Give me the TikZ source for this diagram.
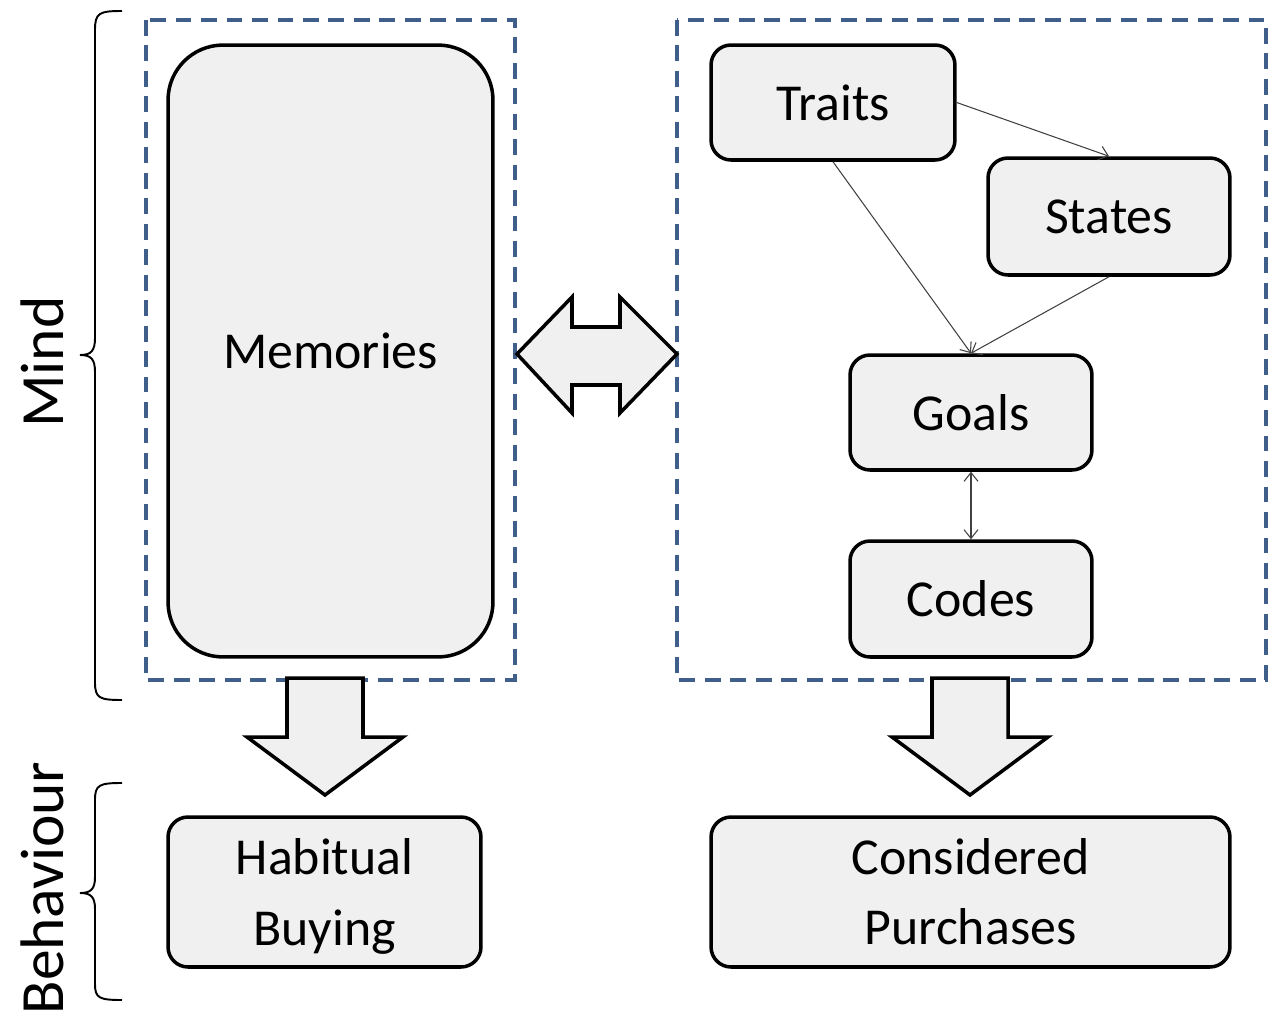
\documentclass[tikz,border=0pt]{standalone}
\usepackage{fontspec}
\setmainfont{Carlito}
\usetikzlibrary{arrows.meta}
\definecolor{boxfill}{HTML}{F0F0F0}
\definecolor{frameblue}{HTML}{3F5E8A}
\begin{document}
\begin{tikzpicture}[x=0.02cm,y=-0.02cm,
  block/.style={draw=black, line width=2pt, fill=boxfill, rounded corners=0.4cm,
    align=center, inner sep=0pt, font=\fontsize{29.5}{40}\selectfont},
  frame/.style={draw=frameblue, line width=2pt, dash pattern=on 9pt off 5.5pt},
  bigarrow/.style={draw=black, line width=2pt, fill=boxfill, line join=miter},
  conn/.style={draw=black!75, line width=0.6pt, -{Straight Barb[length=5pt,width=8pt]}},
  bothconn/.style={draw=black!75, line width=0.6pt, {Straight Barb[length=5pt,width=8pt]}-{Straight Barb[length=5pt,width=8pt]}},
  brace/.style={draw=black, line width=1.1pt},
  side/.style={rotate=90, inner sep=0pt, font=\fontsize{35}{40}\selectfont}]
\useasboundingbox (0,0) rectangle (1269,1018);

% dashed frames
\draw[frame] (146,20) rectangle (515,680);
\draw[frame] (677,20) rectangle (1266,680);

% boxes
\node[block, rounded corners=1.1cm, minimum width=6.5cm, minimum height=12.24cm] (memories) at (330.5,351) {Memories};
\node[block, minimum width=4.88cm, minimum height=2.3cm] (traits) at (833,102.5) {Traits};
\node[block, minimum width=4.84cm, minimum height=2.34cm] (states) at (1109,216.5) {States};
\node[block, minimum width=4.84cm, minimum height=2.3cm] (goals) at (971,412.5) {Goals};
\node[block, minimum width=4.84cm, minimum height=2.32cm] (codes) at (971,599) {Codes};
\node[block, minimum width=6.26cm, minimum height=3cm, text depth=0pt] (habitual) at (324.5,892) {Habitual\\Buying};
\node[block, minimum width=10.38cm, minimum height=3cm] (considered) at (970.5,892) {Considered\\Purchases};

% connectors
\draw[conn] (traits.east) -- (states.north);
\draw[conn] (traits.south) -- (goals.north);
\draw[conn] (states.south) -- (goals.north);
\draw[bothconn] (goals.south) -- (codes.north);

% block arrows
\draw[bigarrow] (517,354) -- (572,297) -- (572,327) -- (620,327) -- (620,297) -- (677,354)
  -- (620,413) -- (620,385) -- (572,385) -- (572,413) -- cycle;
\draw[bigarrow] (287,678) -- (363,678) -- (363,737) -- (403,737) -- (325,795) -- (247,737) -- (287,737) -- cycle;
\draw[bigarrow] (932,678) -- (1008,678) -- (1008,737) -- (1048,737) -- (970,795) -- (892,737) -- (932,737) -- cycle;

% braces
\draw[brace] (122,11) .. controls (99,11) and (95,13) .. (95,30) -- (95,338)
  .. controls (95,351) and (91,355) .. (80,355)
  .. controls (91,355) and (95,359) .. (95,372) -- (95,682)
  .. controls (95,698) and (99,700) .. (122,700);
\draw[brace] (122,783) .. controls (99,783) and (95,785) .. (95,800) -- (95,877)
  .. controls (95,889) and (91,893) .. (80,893)
  .. controls (91,893) and (95,897) .. (95,909) -- (95,984)
  .. controls (95,998) and (99,1000) .. (122,1000);

% side labels
\node[side] (mind) at (42,362) {Mind};
\node[side] (behaviour) at (42,888) {Behaviour};
\end{tikzpicture}
\end{document}
